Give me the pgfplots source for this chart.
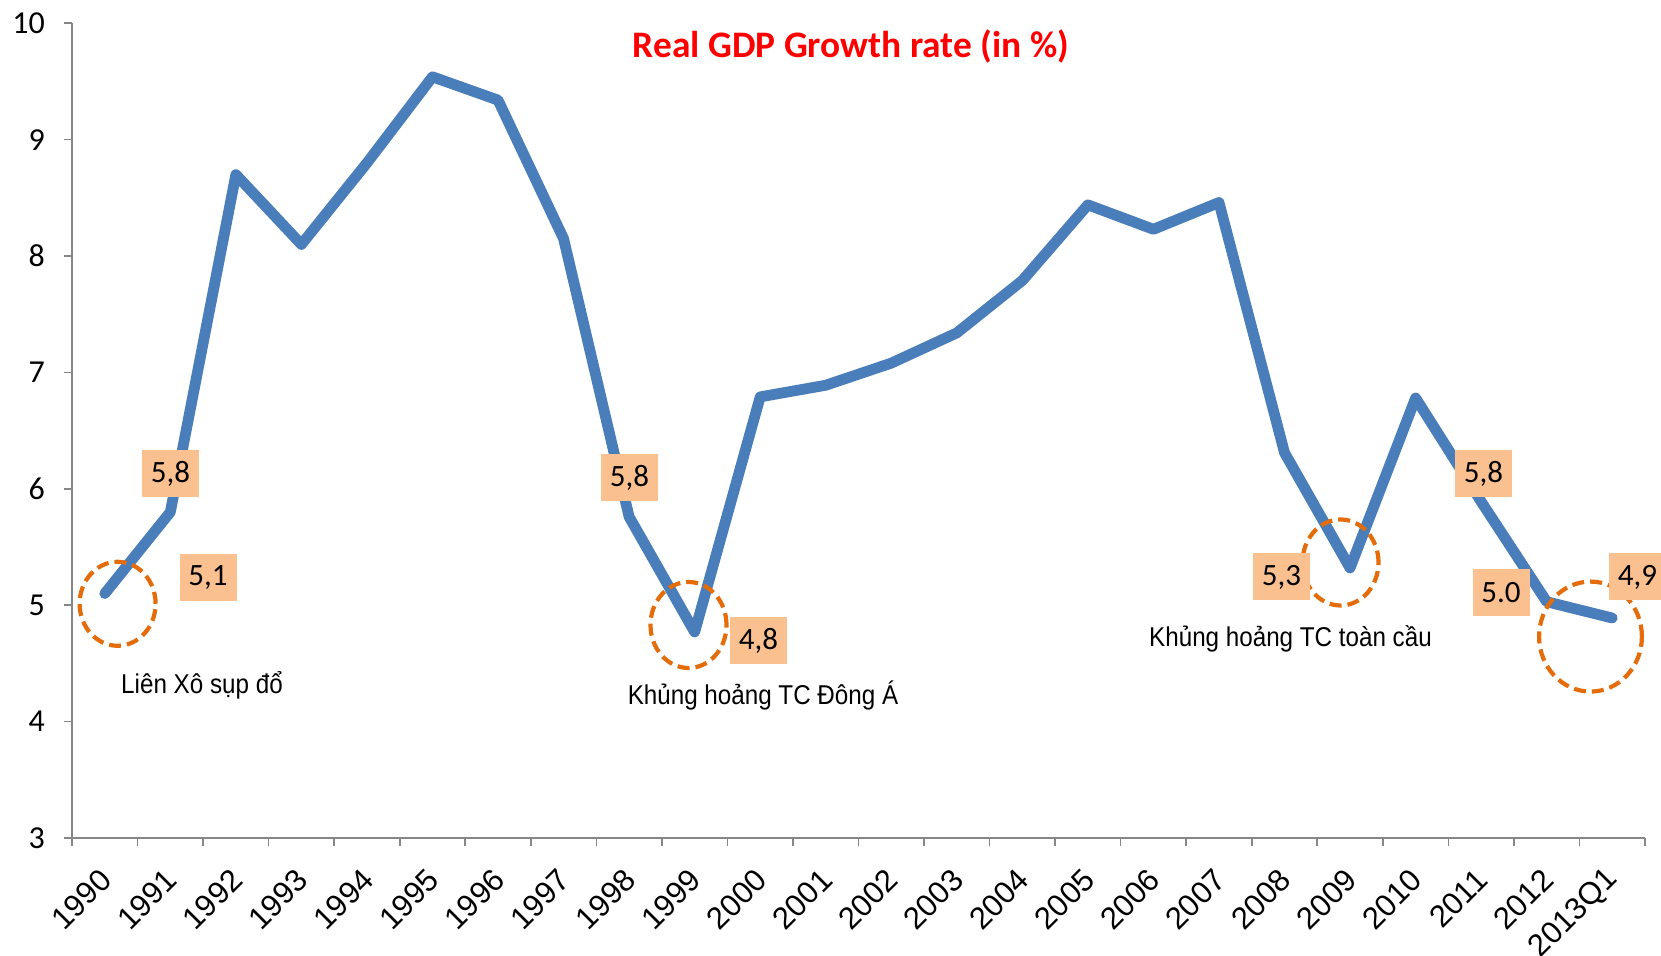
\documentclass[border=0pt]{standalone}
\usepackage{fontspec}
\setmainfont{Carlito}
\newfontfamily\arialfont{Liberation Sans}
\newfontfamily\narrowfont[FakeStretch=0.89]{Liberation Sans}
\usepackage{pgfplots}
\pgfplotsset{compat=1.18}
\definecolor{lineblue}{HTML}{4A7EBB}
\definecolor{circorange}{HTML}{E46C0A}
\definecolor{boxfill}{HTML}{FAC090}
\definecolor{axgray}{HTML}{868686}
\begin{document}
\begin{tikzpicture}
\useasboundingbox (-36pt,-59pt) rectangle (794.5pt,419pt);
\begin{axis}[
  at={(0pt,0pt)}, anchor=south west,
  scale only axis, width=786.5pt, height=407.35pt,
  xmin=-0.5, xmax=23.5, ymin=3, ymax=10,
  axis lines*=left,
  axis line style={axgray, line width=0.8pt},
  tick align=outside,
  xtick={0,...,23},
  xticklabels={1990,1991,1992,1993,1994,1995,1996,1997,1998,1999,2000,2001,2002,2003,2004,2005,2006,2007,2008,2009,2010,2011,2012,2013Q1},
  minor xtick={-0.5,0.5,...,23.5},
  major x tick style={draw=none},
  minor x tick style={axgray, line width=0.8pt},
  minor tick length=4pt,
  major tick length=4pt,
  ytick={3,4,5,6,7,8,9,10},
  y tick style={axgray, line width=0.8pt},
  /pgf/number format/assume math mode=true,
  yticklabel style={font=\fontsize{16}{16}\selectfont, xshift=-6pt},
  xticklabel style={font=\arialfont\fontsize{15.5}{15.5}\selectfont, xshift=3pt, yshift=-12pt, rotate=45, anchor=east},
]
\addplot[lineblue, line width=5.4pt, line join=round, line cap=round, mark=none] coordinates {
(0,5.1) (1,5.8) (2,8.7) (3,8.1) (4,8.8) (5,9.54) (6,9.34) (7,8.15) (8,5.76) (9,4.77)
(10,6.79) (11,6.89) (12,7.08) (13,7.34) (14,7.79) (15,8.44) (16,8.23) (17,8.46) (18,6.31) (19,5.32)
(20,6.78) (21,5.89) (22,5.03) (23,4.89)
};
\end{axis}
% title
\node[font=\bfseries\fontsize{18.7}{18.7}\selectfont, text=red] at (389.5pt,395.7pt) {Real GDP Growth rate (in \%)};
% dashed ellipses
\begin{scope}[circorange, line width=2.1pt, dash pattern=on 6pt off 3pt]
\draw (22.8pt,117.1pt) ellipse [x radius=19pt, y radius=21pt];
\draw (308.25pt,106.5pt) ellipse [x radius=19pt, y radius=21.5pt];
\draw (634.25pt,137.75pt) ellipse [x radius=19pt, y radius=21.5pt];
\draw (759.25pt,100.7pt) ellipse [x radius=25.7pt, y radius=27.5pt];
\end{scope}
% value boxes
\begin{scope}[every node/.style={fill=boxfill, minimum width=28.5pt, minimum height=23.5pt, inner sep=0pt, font=\fontsize{15.5}{15.5}\selectfont}]
\node at (49.25pt,182.25pt) {5,8};
\node at (68pt,130pt) {5,1};
\node at (278.75pt,180.25pt) {5,8};
\node at (343.25pt,98.5pt) {4,8};
\node at (604.75pt,130.5pt) {5,3};
\node at (705.75pt,182pt) {5,8};
\node at (714.5pt,122.5pt) {5.0};
\node at (782.75pt,130.5pt) {4,9};
\end{scope}
% annotations
\begin{scope}[every node/.style={font=\narrowfont\fontsize{13.6}{13.6}\selectfont, inner sep=0pt}]
\node at (65pt,76.5pt) {Liên Xô sụp đổ};
\node at (345.5pt,71pt) {Khủng hoảng TC Đông Á};
\node at (609.25pt,99.5pt) {Khủng hoảng TC toàn cầu};
\end{scope}
\end{tikzpicture}
\end{document}
